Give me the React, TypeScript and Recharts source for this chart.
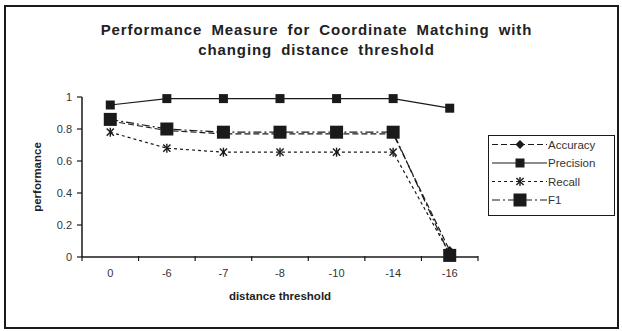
import React from 'react';
import { LineChart, Line, XAxis, YAxis, Legend } from 'recharts';

// Distance thresholds along the x axis
const categories = ['0', '-6', '-7', '-8', '-10', '-14', '-16'];

// Performance series per threshold
const accuracy = [0.85, 0.79, 0.77, 0.77, 0.77, 0.77, 0.04];
const precision = [0.95, 0.99, 0.99, 0.99, 0.99, 0.99, 0.93];
const recall = [0.78, 0.68, 0.655, 0.655, 0.655, 0.655, 0.02];
const f1 = [0.86, 0.8, 0.78, 0.78, 0.78, 0.78, 0.01];

const yTicks = [0, 0.2, 0.4, 0.6, 0.8, 1];

// Each category occupies one unit; labels sit mid-band, tick marks on band edges
const xTicks: number[] = [];
for (let i = 0; i <= categories.length; i++) {
  xTicks.push(i);
  if (i < categories.length) xTicks.push(i + 0.5);
}

const data = categories.map((c, i) => ({
  threshold: c,
  pos: i + 0.5,
  Accuracy: accuracy[i],
  Precision: precision[i],
  Recall: recall[i],
  F1: f1[i],
}));

const FONT = '"Liberation Sans", Arial, sans-serif';
const INK = '#1a1a1a';
const TEXT = '#333';

type MarkProps = { cx?: number; cy?: number };

const Square = (size: number) => (props: MarkProps) => {
  const { cx, cy } = props;
  if (cx == null || cy == null) return <g />;
  return <rect x={cx - size / 2} y={cy - size / 2} width={size} height={size} fill={INK} />;
};

const Diamond = (props: MarkProps) => {
  const { cx, cy } = props;
  if (cx == null || cy == null) return <g />;
  const r = 4.5;
  return <polygon points={`${cx},${cy - r} ${cx + r},${cy} ${cx},${cy + r} ${cx - r},${cy}`} fill={INK} />;
};

const Asterisk = (props: MarkProps) => {
  const { cx, cy } = props;
  if (cx == null || cy == null) return <g />;
  const r = 4.5;
  const d = r * 0.8;
  return (
    <g stroke={INK} strokeWidth={1.4}>
      <line x1={cx - d} y1={cy - d} x2={cx + d} y2={cy + d} />
      <line x1={cx - d} y1={cy + d} x2={cx + d} y2={cy - d} />
      <line x1={cx} y1={cy - r} x2={cx} y2={cy + r} />
    </g>
  );
};

const series = [
  { key: 'Accuracy', dash: '6 3', mark: Diamond, width: 1.2 },
  { key: 'Precision', dash: undefined, mark: Square(9), width: 1.2 },
  { key: 'Recall', dash: '3 3', mark: Asterisk, width: 1.2 },
  { key: 'F1', dash: '8 3 2 3', mark: Square(13), width: 1.2 },
];

const XTick = (props: any) => {
  const { x, y, payload } = props;
  const v = payload.value as number;
  if (Number.isInteger(v)) {
    return <line x1={x} y1={y - 1} x2={x} y2={y + 4} stroke={INK} strokeWidth={1.2} />;
  }
  return (
    <text x={x} y={y + 12} dy="0.71em" textAnchor="middle" fontSize={11} fill={TEXT} fontFamily={FONT}>
      {categories[Math.floor(v)]}
    </text>
  );
};

const LegendBox = () => {
  const rowGap = 18.5;
  return (
    <div
      style={{
        width: 127,
        height: 81,
        border: `1.5px solid ${INK}`,
        boxSizing: 'border-box',
        background: '#fff',
      }}
    >
      <svg width={124} height={78} style={{ display: 'block' }}>
        {series.map((s, i) => {
          const y = 8.5 + i * rowGap;
          const M = s.mark;
          return (
            <g key={s.key}>
              <line x1={3} y1={y} x2={58} y2={y} stroke={INK} strokeWidth={1.2} strokeDasharray={s.dash} />
              <M cx={31} cy={y} />
              <text x={59} y={y} dy="0.36em" fontSize={11.5} fill={TEXT} fontFamily={FONT}>
                {s.key}
              </text>
            </g>
          );
        })}
      </svg>
    </div>
  );
};

export default function App() {
  return (
    <div style={{ position: 'absolute', left: 0, top: 0, width: 622, height: 331, background: '#fff', fontFamily: FONT }}>
      <div
        style={{
          position: 'absolute',
          left: 4,
          top: 5,
          width: 615,
          height: 324,
          border: `2px solid ${INK}`,
          boxSizing: 'border-box',
        }}
      />
      <div
        style={{
          position: 'absolute',
          left: 0,
          top: 20,
          width: 633,
          textAlign: 'center',
          fontSize: 15,
          fontWeight: 'bold',
          lineHeight: '20px',
          letterSpacing: 0.9,
          wordSpacing: 4,
          color: '#222',
        }}
      >
        Performance Measure for Coordinate Matching with
        <br />
        changing distance threshold
      </div>
      <div style={{ position: 'absolute', left: 0, top: 0 }}>
        <LineChart width={622} height={331} data={data} margin={{ top: 97, right: 144, bottom: 31, left: 38 }}>
          <XAxis
            dataKey="pos"
            type="number"
            domain={[0, categories.length]}
            ticks={xTicks}
            interval={0}
            tick={<XTick />}
            tickLine={false}
            tickSize={0}
            tickMargin={0}
            height={43}
            axisLine={{ stroke: INK, strokeWidth: 1.5 }}
            label={{
              value: 'distance threshold',
              position: 'insideBottom',
              offset: 0,
              style: { fontSize: 11.5, fontWeight: 'bold', fill: '#222', fontFamily: FONT },
            }}
          />
          <YAxis
            domain={[0, 1]}
            ticks={yTicks}
            interval={0}
            width={44}
            tickSize={5}
            tickMargin={5}
            tick={{ fontSize: 11, fill: TEXT, fontFamily: FONT }}
            tickLine={{ stroke: INK, strokeWidth: 1.2 }}
            axisLine={{ stroke: INK, strokeWidth: 1.5 }}
            tickFormatter={(v: number) => String(v)}
            label={{
              value: 'performance',
              angle: -90,
              position: 'insideLeft',
              offset: -1,
              style: { textAnchor: 'middle', fontSize: 11.5, fontWeight: 'bold', fill: '#222', fontFamily: FONT },
            }}
          />
          <Legend
            layout="horizontal"
            verticalAlign="middle"
            align="center"
            content={() => <LegendBox />}
            wrapperStyle={{ position: 'absolute', left: 488, top: 135, width: 127, height: 81 }}
          />
          {series.map((s) => (
            <Line
              key={s.key}
              dataKey={s.key}
              stroke={INK}
              strokeWidth={s.width}
              strokeDasharray={s.dash}
              dot={s.mark}
              activeDot={false}
              isAnimationActive={false}
              legendType="none"
            />
          ))}
        </LineChart>
      </div>
    </div>
  );
}
